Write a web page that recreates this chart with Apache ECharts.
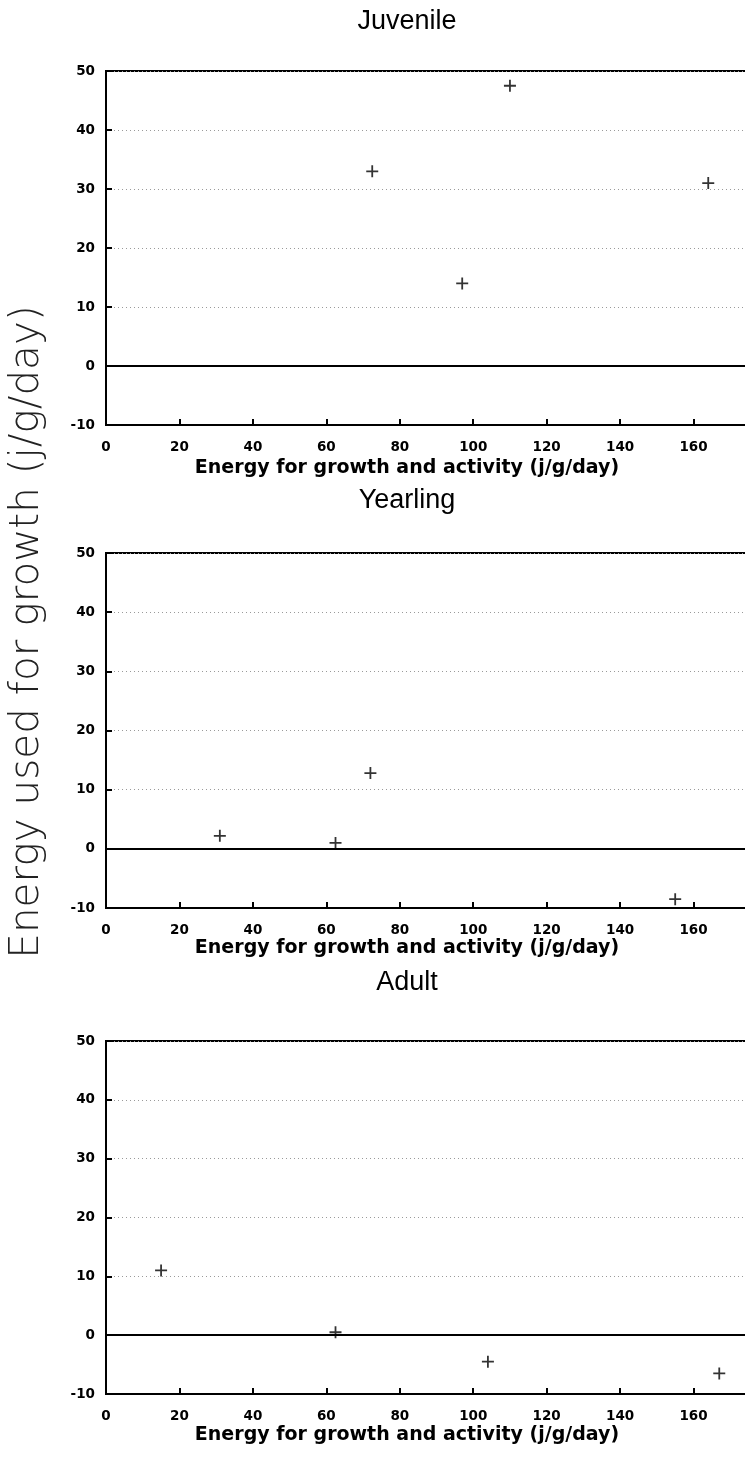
<!DOCTYPE html>
<html>
<head>
<meta charset="utf-8">
<script src="https://cdn.jsdelivr.net/npm/echarts@6/dist/echarts.min.js"></script>
<style>
html, body { margin:0; padding:0; overflow:hidden; background:#fff; width:745px; height:1460px; }
#chart { width:800px; height:1460px; }
</style>
</head>
<body>
<div id="chart"></div>
<script>
// Data
const panelTitles = ['Juvenile', 'Yearling', 'Adult'];
const xTitle = 'Energy for growth and activity (j/g/day)';
const yTitle = 'Energy used for growth (j/g/day)';
const juvenileX = [72.5, 97, 110, 164];
const juvenileY = [33, 14, 47.5, 31];
const yearlingX = [31, 62.5, 72, 155];
const yearlingY = [2.2, 1, 12.8, -8.5];
const adultX = [15, 62.5, 104, 167];
const adultY = [11, 0.5, -4.5, -6.5];
const xTicks = [0, 20, 40, 60, 80, 100, 120, 140, 160, 180];
const yTicks = [-10, 0, 10, 20, 30, 40, 50];

const panels = [
  { x: juvenileX, y: juvenileY, top: 71, h: 354, titleY: 22, xNameY: 468 },
  { x: yearlingX, y: yearlingY, top: 553, h: 355, titleY: 501, xNameY: 948 },
  { x: adultX, y: adultY, top: 1041, h: 353, titleY: 983, xNameY: 1435 }
];

const plus = 'path://M-0.9,-6 L0.9,-6 L0.9,-0.9 L6,-0.9 L6,0.9 L0.9,0.9 L0.9,6 L-0.9,6 L-0.9,0.9 L-6,0.9 L-6,-0.9 L-0.9,-0.9 Z';
const labelFont = { color: '#000', fontFamily: '"DejaVu Sans", sans-serif', fontWeight: 'bold', fontSize: 13.5 };

const grids = [], xAxes = [], yAxes = [], series = [], graphics = [];
panels.forEach((p, i) => {
  grids.push({ left: 106, width: 661, top: p.top, height: p.h, show: true, borderColor: '#000', borderWidth: 2, backgroundColor: 'transparent' });
  xAxes.push({
    type: 'value', gridIndex: i, min: xTicks[0], max: xTicks[xTicks.length - 1], interval: 20,
    axisLine: { show: true, onZero: false, lineStyle: { color: '#000', width: 2 } },
    axisTick: { show: true, inside: true, length: 6, lineStyle: { color: '#000', width: 2 } },
    axisLabel: Object.assign({ margin: 15 }, labelFont),
    splitLine: { show: false }
  });
  yAxes.push({
    type: 'value', gridIndex: i, min: yTicks[0], max: yTicks[yTicks.length - 1], interval: 10,
    axisLine: { show: true, onZero: false, lineStyle: { color: '#000', width: 2 } },
    axisTick: { show: true, inside: true, length: 6, lineStyle: { color: '#000', width: 2 } },
    axisLabel: Object.assign({ margin: 11 }, labelFont),
    splitLine: { show: true, lineStyle: { color: '#9a9a9a', width: 1, type: [1, 3] } }
  });
  series.push({
    type: 'scatter', xAxisIndex: i, yAxisIndex: i,
    data: p.x.map((v, k) => [v, p.y[k]]),
    symbol: plus, symbolSize: 12,
    itemStyle: { color: '#000' },
    markLine: {
      silent: true, symbol: 'none', label: { show: false },
      lineStyle: { color: '#000', width: 2, type: 'solid' },
      data: [{ yAxis: 0 }]
    }
  });
  graphics.push({
    type: 'text', x: 407, y: p.titleY,
    style: { text: panelTitles[i], fill: '#000', font: '27px "Liberation Sans", Arial, sans-serif', textAlign: 'center', textVerticalAlign: 'middle' }
  });
  graphics.push({
    type: 'text', x: 407, y: p.xNameY,
    style: { text: xTitle, fill: '#000', font: 'bold 19px "DejaVu Sans", sans-serif', textAlign: 'center', textVerticalAlign: 'middle' }
  });
});
graphics.push({
  type: 'text', x: 27, y: 632, rotation: Math.PI / 2,
  style: { text: yTitle, fill: '#222', font: '200 40.5px "DejaVu Sans", sans-serif', textAlign: 'center', textVerticalAlign: 'middle' }
});

const chart = echarts.init(document.getElementById('chart'), null, { renderer: 'canvas' });
chart.setOption({
  animation: false,
  backgroundColor: '#fff',
  grid: grids, xAxis: xAxes, yAxis: yAxes, series: series,
  graphic: graphics
});
</script>
</body>
</html>
